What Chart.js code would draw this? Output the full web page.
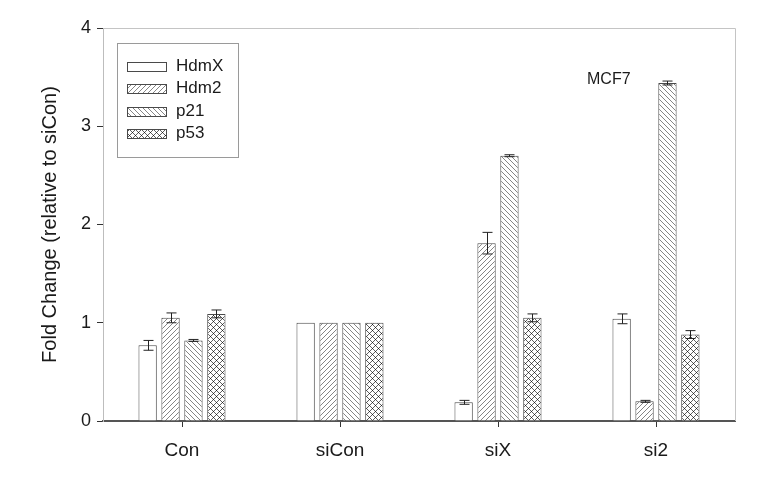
<!DOCTYPE html>
<html>
<head>
<meta charset="utf-8">
<script src="https://cdn.jsdelivr.net/npm/chart.js@4/dist/chart.umd.min.js"></script>
<style>
  html, body { margin: 0; padding: 0; background: #ffffff; }
  canvas { display: block; }
</style>
</head>
<body>
<canvas id="chart" width="782" height="481"></canvas>
<script>
const categories = ['Con', 'siCon', 'siX', 'si2']
const seriesNames = ['HdmX', 'Hdm2', 'p21', 'p53']
const hdmX = [0.77, 1.0, 0.19, 1.04]
const hdm2 = [1.05, 1.0, 1.81, 0.20]
const p21 = [0.82, 1.0, 2.70, 3.44]
const p53 = [1.09, 1.0, 1.05, 0.88]
const hdmXErr = [0.05, 0, 0.02, 0.05]
const hdm2Err = [0.05, 0, 0.11, 0.01]
const p21Err = [0.01, 0, 0.01, 0.02]
const p53Err = [0.04, 0, 0.04, 0.04]
const yTicks = [0, 1, 2, 3, 4]
const panelLabel = 'MCF7'
const yTitle = 'Fold Change (relative to siCon)'

const FONT = '"Liberation Sans", Arial, sans-serif'

// small hatch tiles built pixel by pixel
function makePattern(size, test, ink) {
  const tile = document.createElement('canvas')
  tile.width = size
  tile.height = size
  const t = tile.getContext('2d')
  t.fillStyle = '#ffffff'
  t.fillRect(0, 0, size, size)
  for (let y = 0; y < size; y++) {
    for (let x = 0; x < size; x++) {
      const c = test(x, y)
      if (c) {
        t.fillStyle = c === 2 ? '#222222' : ink
        t.fillRect(x, y, 1, 1)
      }
    }
  }
  return t.createPattern(tile, 'repeat')
}

const ctx = document.getElementById('chart').getContext('2d')
const fills = [
  '#ffffff',
  makePattern(5, (x, y) => ((x + y) % 5 === 0 ? 1 : 0), '#858585'),
  makePattern(5, (x, y) => ((x - y + 5) % 5 === 0 ? 1 : 0), '#858585'),
  makePattern(6, (x, y) => {
    if ((x + y) % 6 === 0 && (x - y + 6) % 6 === 0) return 2
    return ((x + y) % 6 === 0 || (x - y + 6) % 6 === 0) ? 1 : 0
  }, '#606060'),
]
const values = [hdmX, hdm2, p21, p53]
const errors = [hdmXErr, hdm2Err, p21Err, p53Err]

const datasets = seriesNames.map((name, i) => ({
  label: name,
  data: values[i],
  errors: errors[i],
  backgroundColor: fills[i],
  borderColor: '#4a4a4a',
  borderWidth: 1,
  categoryPercentage: 0.58,
  barPercentage: 0.8,
}))

const errorBars = {
  id: 'errorBars',
  afterDatasetsDraw(chart) {
    const c = chart.ctx
    const y = chart.scales.y
    c.save()
    c.strokeStyle = '#222222'
    c.lineWidth = 1
    chart.data.datasets.forEach((ds, di) => {
      const meta = chart.getDatasetMeta(di)
      meta.data.forEach((bar, i) => {
        const e = ds.errors[i]
        if (!e) return
        const v = ds.data[i]
        const x = Math.round(bar.x) + 0.5
        const top = y.getPixelForValue(v + e)
        const bot = y.getPixelForValue(v - e)
        c.beginPath()
        c.moveTo(x, top)
        c.lineTo(x, bot)
        c.moveTo(x - 5, top)
        c.lineTo(x + 5, top)
        c.moveTo(x - 5, bot)
        c.lineTo(x + 5, bot)
        c.stroke()
      })
    })
    c.restore()
  },
}

const frameAndLegend = {
  id: 'frameAndLegend',
  afterDraw(chart) {
    const c = chart.ctx
    const a = chart.chartArea
    c.save()
    // light frame on top and right
    c.strokeStyle = '#c4c4c4'
    c.lineWidth = 1
    c.beginPath()
    c.moveTo(a.left, a.top + 0.5)
    c.lineTo(a.right + 0.5, a.top + 0.5)
    c.lineTo(a.right + 0.5, a.bottom)
    c.stroke()

    // legend box
    c.strokeStyle = '#9a9a9a'
    c.fillStyle = '#ffffff'
    c.fillRect(117, 43, 121, 114)
    c.strokeRect(117.5, 43.5, 121, 114)
    c.font = '17px ' + FONT
    c.textBaseline = 'middle'
    c.textAlign = 'left'
    chart.data.datasets.forEach((ds, i) => {
      const cy = 66 + i * 22.5
      c.fillStyle = ds.backgroundColor
      c.fillRect(127, Math.round(cy - 4.5), 39, 9)
      c.strokeStyle = '#4a4a4a'
      c.strokeRect(127.5, Math.round(cy - 4.5) + 0.5, 39, 9)
      c.fillStyle = '#1a1a1a'
      c.fillText(ds.label, 176, cy)
    })

    c.font = '16px ' + FONT
    c.fillText(panelLabel, 587, 80)
    c.restore()
  },
}

new Chart(ctx, {
  type: 'bar',
  data: { labels: categories, datasets },
  options: {
    responsive: false,
    animation: false,
    layout: { padding: { left: 0, top: 28, right: 47, bottom: 0 } },
    plugins: {
      legend: { display: false },
      tooltip: { enabled: false },
    },
    scales: {
      x: {
        afterFit: (s) => { s.height = 60 },
        grid: {
          offset: false,
          drawOnChartArea: false,
          tickLength: 6,
          tickColor: '#333333',
        },
        border: { color: '#555555', width: 2 },
        ticks: {
          color: '#1a1a1a',
          padding: 12,
          font: { size: 19, family: FONT },
        },
      },
      y: {
        min: 0,
        max: 4,
        afterFit: (s) => { s.width = 103 },
        afterBuildTicks: (s) => { s.ticks = yTicks.map((v) => ({ value: v })) },
        grid: {
          drawOnChartArea: false,
          tickLength: 6,
          tickColor: '#333333',
        },
        border: { color: '#bdbdbd', width: 1 },
        ticks: {
          color: '#1a1a1a',
          padding: 6,
          font: { size: 18, family: FONT },
        },
        title: {
          display: true,
          text: yTitle,
          color: '#1a1a1a',
          font: { size: 20, family: FONT },
          padding: { top: 38, bottom: 0 },
        },
      },
    },
  },
  plugins: [errorBars, frameAndLegend],
})
</script>
</body>
</html>
